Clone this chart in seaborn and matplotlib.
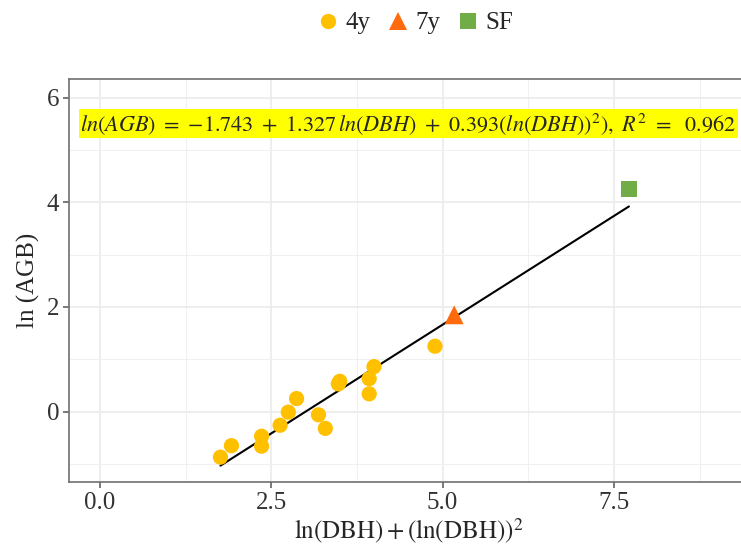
import matplotlib
matplotlib.use("Agg")
import matplotlib.pyplot as plt
from matplotlib.lines import Line2D
import numpy as np
import pandas as pd
import seaborn as sns

# x = ln(DBH) + (ln(DBH))^2, y = ln(AGB)
x_4y = [1.76, 1.92, 2.36, 2.36, 2.63, 2.75, 2.87, 3.19, 3.29, 3.48, 3.50, 3.93, 3.93, 4.00, 4.89]
y_4y = [-0.87, -0.65, -0.47, -0.66, -0.26, -0.01, 0.25, -0.06, -0.32, 0.53, 0.58, 0.34, 0.63, 0.86, 1.25]
x_7y = [5.17]
y_7y = [1.85]
x_sf = [7.72]
y_sf = [4.26]

groups = ["4y", "7y", "SF"]
colors = {"4y": "#FFC000", "7y": "#FF6A0D", "SF": "#70AD47"}
markers = {"4y": "o", "7y": "^", "SF": "s"}
sizes = {"4y": 120, "7y": 185, "SF": 135}

equation = (r"$ln(AGB)\ =\ {-}1.743\ +\ 1.327\,ln(DBH)\ +\ 0.393(ln(DBH))^2),"
            r"\ R^2\ =\ \ 0.962$")

x_ticks = [0.0, 2.5, 5.0, 7.5]
x_tick_labels = ["0.0", "2.5", "5.0", "7.5"]
y_ticks = [0, 2, 4, 6]

df = pd.DataFrame({
    "x": x_4y + x_7y + x_sf,
    "y": y_4y + y_7y + y_sf,
    "group": ["4y"] * len(x_4y) + ["7y"] * len(x_7y) + ["SF"] * len(x_sf),
})

sns.set_theme(style="white")
plt.rcParams["font.family"] = ["Liberation Serif", "DejaVu Serif"]
plt.rcParams["mathtext.fontset"] = "stix"

fig = plt.figure(figsize=(7.41, 5.56), dpi=100)
ax = fig.add_axes([69 / 741, 73.7 / 556, 678.5 / 741, 403 / 556])

# linear fit over all stands
sns.regplot(data=df, x="x", y="y", ax=ax, scatter=False, ci=None, truncate=True,
            line_kws={"color": "black", "lw": 1.5, "zorder": 3})

for g in groups:
    sub = df[df["group"] == g]
    sns.scatterplot(data=sub, x="x", y="y", ax=ax, color=colors[g], marker=markers[g],
                    s=sizes[g], edgecolor="none", linewidth=0, zorder=4, legend=False)

ax.set_xlim(-0.45, 9.45)
ax.set_ylim(-1.35, 6.35)
ax.set_xticks(x_ticks)
ax.set_xticklabels(x_tick_labels)
ax.set_yticks(y_ticks)
ax.set_xticks([1.25, 3.75, 6.25, 8.75], minor=True)
ax.set_yticks([-1, 1, 3, 5], minor=True)
ax.grid(which="major", color="#EBEBEB", lw=1.2, zorder=0)
ax.grid(which="minor", color="#F0F0F0", lw=0.8, zorder=0)
ax.set_axisbelow(True)
for sp in ax.spines.values():
    sp.set_color("#707070")
    sp.set_linewidth(1.2)
ax.tick_params(which="major", length=4, width=1.1, color="#555555", labelsize=18,
               labelcolor="#333333", left=True, bottom=True, pad=3)
ax.tick_params(which="minor", length=0)

ax.set_xlabel(r"$\mathrm{ln}\left(\mathrm{DBH}\right)+\left(\mathrm{ln}\left(\mathrm{DBH}\right)\right)^{2}$",
              fontsize=18, labelpad=2)
ax.set_ylabel("ln (AGB)", fontsize=18, labelpad=5)

ax.text(4.5, 5.5, equation, ha="center", va="center", fontsize=16,
        bbox=dict(facecolor="#FFFF00", edgecolor="none", pad=1.2), zorder=5)

handles = [Line2D([], [], ls="none", marker=markers[g], color=colors[g],
                  markersize=11 if g != "7y" else 13.5, markeredgewidth=0, label=g)
           for g in groups]
fig.legend(handles=handles, loc="center", bbox_to_anchor=(413 / 741, 1 - 23 / 556), ncol=3,
           frameon=False, fontsize=18, handletextpad=0.1, columnspacing=0.5, handlelength=1.2)

fig.savefig("out.png", dpi=100)
